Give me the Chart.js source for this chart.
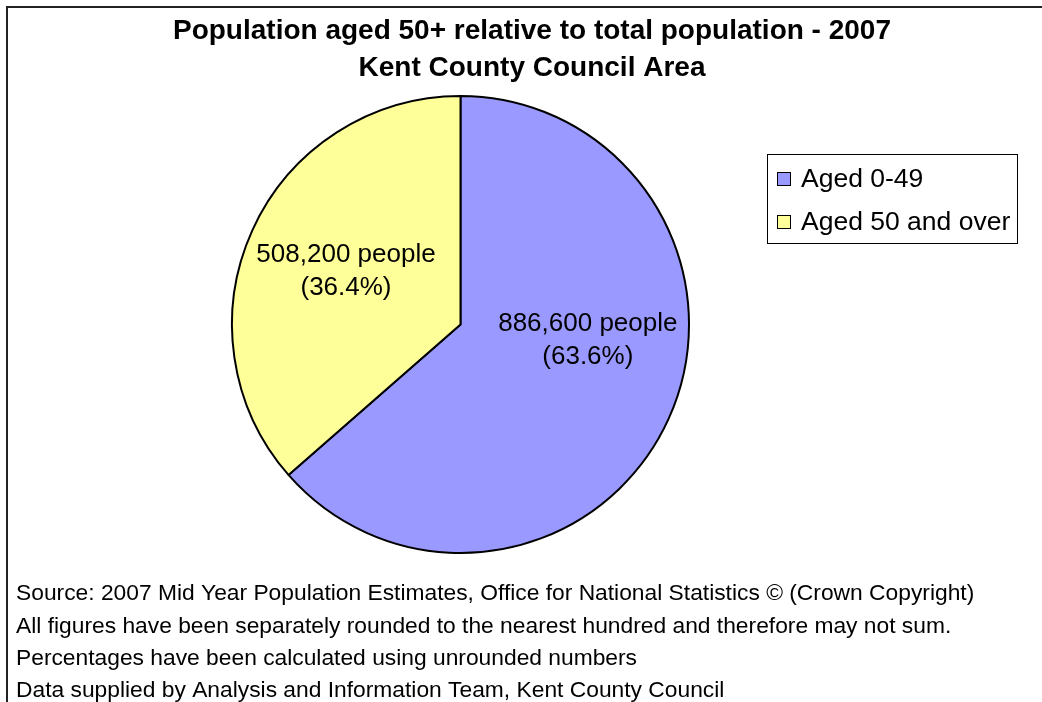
<!DOCTYPE html>
<html>
<head>
<meta charset="utf-8">
<title>Population aged 50+ - Kent County Council Area</title>
<script src="https://cdn.jsdelivr.net/npm/chart.js@4.4.0/dist/chart.umd.min.js"></script>
<style>
    body { margin: 0; background: #fff; }
    #grafico { display: block; }
</style>
</head>
<body>
<canvas id="grafico" width="1042" height="702"></canvas>
<script>
// DATOS
const categorias = ["Aged 0-49", "Aged 50 and over"];
const personas = [886600, 508200];
const porcentajes = [63.6, 36.4];
const etiquetas = ["886,600 people", "508,200 people"];
const colores = ["#9999FF", "#FFFF99"];

const titulo = [
    "Population aged 50+ relative to total population - 2007",
    "Kent County Council Area"
];
const notas = [
    "Source: 2007 Mid Year Population Estimates, Office for National Statistics \u00A9 (Crown Copyright)",
    "All figures have been separately rounded to the nearest hundred and therefore may not sum.",
    "Percentages have been calculated using unrounded numbers",
    "Data supplied by Analysis and Information Team, Kent County Council"
];

const FUENTE = "'Liberation Sans', Arial, sans-serif";

// Plugin para titulo, leyenda con marco, etiquetas y notas
const extras = {
    id: "extras",
    afterDraw(chart) {
        const ctx = chart.ctx;
        ctx.save();

        // marco (solo arriba e izquierda)
        ctx.strokeStyle = "#222";
        ctx.lineWidth = 2;
        ctx.beginPath();
        ctx.moveTo(7, 702);
        ctx.lineTo(7, 7);
        ctx.lineTo(1042, 7);
        ctx.stroke();

        // titulo
        ctx.fillStyle = "#000";
        ctx.textBaseline = "middle";
        ctx.textAlign = "center";
        ctx.font = "bold 28px " + FUENTE;
        ctx.fillText(titulo[0], 532, 31);
        ctx.fillText(titulo[1], 532, 68);

        // etiquetas de las porciones
        const meta = chart.getDatasetMeta(0);
        const posiciones = [0.418, 0.516];
        ctx.font = "26px " + FUENTE;
        meta.data.forEach((arc, i) => {
            const a = arc.startAngle + (arc.endAngle - arc.startAngle) * posiciones[i];
            const r = arc.outerRadius * 0.56;
            const x = arc.x + Math.cos(a) * r;
            const y = arc.y + Math.sin(a) * r;
            ctx.fillText(etiquetas[i], x, y - 13);
            ctx.fillText("(" + porcentajes[i].toFixed(1) + "%)", x, y + 20);
        });

        // leyenda
        ctx.strokeStyle = "#000";
        ctx.lineWidth = 1;
        ctx.strokeRect(767.5, 154.5, 250, 89);
        ctx.font = "26.5px " + FUENTE;
        ctx.textAlign = "left";
        categorias.forEach((c, i) => {
            const y = 178 + i * 43;
            ctx.fillStyle = colores[i];
            ctx.fillRect(777, y - 6, 14, 14);
            ctx.strokeRect(777.5, y - 5.5, 13, 13);
            ctx.fillStyle = "#000";
            ctx.fillText(c, 801, y + 2);
        });

        // notas al pie
        ctx.font = "22.8px " + FUENTE;
        notas.forEach((n, i) => {
            ctx.fillText(n, 16, 594 + i * 32.3);
        });

        ctx.restore();
    }
};

addEventListener("DOMContentLoaded", () => {
    const ctx = document.getElementById("grafico").getContext("2d");
    window.miGrafica = new Chart(ctx, {
        type: "pie",
        data: {
            labels: categorias,
            datasets: [{
                data: personas,
                backgroundColor: colores,
                borderColor: "#000",
                borderWidth: 2
            }]
        },
        options: {
            responsive: false,
            animation: false,
            layout: {
                padding: { left: 231, right: 352, top: 95, bottom: 148 }
            },
            plugins: {
                legend: { display: false },
                title: { display: false },
                tooltip: { enabled: false }
            }
        },
        plugins: [extras]
    });
});
</script>
</body>
</html>
